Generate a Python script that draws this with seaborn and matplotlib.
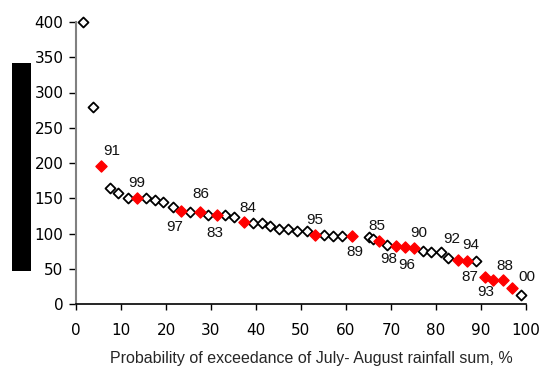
import matplotlib
matplotlib.use("Agg")
import matplotlib.pyplot as plt
import seaborn as sns
import pandas as pd
from matplotlib.patches import Rectangle

# Probability of exceedance (%) and rainfall sum values
prob = [1.5, 3.7, 5.5, 7.6, 9.4, 11.5, 13.6, 15.5, 17.6, 19.3,
        21.5, 23.3, 25.3, 27.5, 29.3, 31.4, 33.1, 35.2, 37.3, 39.3,
        41.3, 43.1, 45.2, 47.2, 49.2, 51.3, 53.1, 55.2, 57.2, 59.2,
        61.3, 65.0, 65.9, 67.3, 69.0, 71.1, 73.0, 75.0, 77.2, 78.9,
        81.0, 82.7, 84.8, 86.8, 88.9, 90.9, 92.7, 94.8, 96.8, 98.9]
rain = [400, 280, 196, 164, 158, 150, 150, 150, 147.5, 144,
        137, 132, 130.5, 130.5, 126, 126, 126, 124, 117, 114.5,
        114.5, 110.6, 107, 106, 103.5, 103.5, 98, 98, 96.5, 96.5,
        96.5, 94.6, 92, 89, 83.7, 82.7, 81.3, 79, 75.6, 74.2,
        74.2, 64.8, 62.4, 61.4, 61.4, 37.9, 34, 34, 22.2, 12.8]
# year labels for highlighted (red) points; '' = not highlighted
years = ['', '', '91', '', '', '', '99', '', '', '',
         '', '97', '', '86', '', '83', '', '', '84', '',
         '', '', '', '', '', '', '95', '', '', '',
         '89', '', '', '85', '', '98', '96', '90', '', '',
         '', '', '92', '94', '', '87', '93', '88', '00', '']
# label offsets in pixels (dx, dy up-positive) for each highlighted year
label_offsets = {'91': (11, 15), '99': (0, 15), '97': (-6, -16), '86': (1, 18),
                 '83': (-2, -18), '84': (4, 14), '95': (0, 15), '89': (3, -16),
                 '85': (-2, 15), '98': (-7, -13), '96': (2, -18), '90': (5, 15),
                 '92': (-6, 21), '94': (4, 16), '87': (-15, 0), '93': (-7, -12),
                 '88': (2, 14), '00': (15, 11)}

df = pd.DataFrame({'prob': prob, 'rain': rain, 'year': years})
df['kind'] = ['red' if y else 'open' for y in years]

sns.set_style('ticks')
fig = plt.figure(figsize=(5.43, 3.67), dpi=100)
ax = fig.add_axes([76/543, 1 - 304/367, 450/543, 282/367])

open_df = df[df.kind == 'open']
red_df = df[df.kind == 'red']
sns.scatterplot(data=open_df, x='prob', y='rain', marker='D', s=26,
                facecolor='white', edgecolor='black', linewidth=1.3, ax=ax,
                zorder=3, clip_on=False)
sns.scatterplot(data=red_df, x='prob', y='rain', marker='D', s=32,
                color='#ff0000', edgecolor='#ff0000', linewidth=1.0, ax=ax,
                zorder=3, clip_on=False)

for _, r in red_df.iterrows():
    dx, dy = label_offsets[r['year']]
    ax.annotate(r['year'], (r['prob'], r['rain']), xytext=(dx, dy),
                textcoords='offset pixels', ha='center', va='center',
                fontsize=11, family='Liberation Sans', color='#111111')

ax.set_xlim(0, 100)
ax.set_ylim(0, 400)
ax.set_xticks(range(0, 101, 10))
ax.set_yticks(range(0, 401, 50))
ax.tick_params(axis='x', direction='out', length=4, width=1, pad=10,
               labelsize=11, colors='black')
ax.tick_params(axis='y', direction='out', length=5, width=1, pad=4,
               labelsize=11, colors='black')
for s in ['top', 'right']:
    ax.spines[s].set_visible(False)
ax.spines['left'].set_color('#808080')
ax.spines['left'].set_linewidth(1.5)
ax.spines['bottom'].set_color('black')
ax.spines['bottom'].set_linewidth(1.2)
ax.set_ylabel('')
ax.set_xlabel('Probability of exceedance of July- August rainfall sum, %',
              fontsize=11.5, family='Liberation Sans')
ax.xaxis.set_label_coords(0.522, -0.165)

# black box at left (as in the reference)
fig.patches.append(Rectangle((12/543, 1 - 271/367), 19/543, 208/367,
                             transform=fig.transFigure, facecolor='black',
                             edgecolor='none'))

fig.savefig('out.png', dpi=100)
